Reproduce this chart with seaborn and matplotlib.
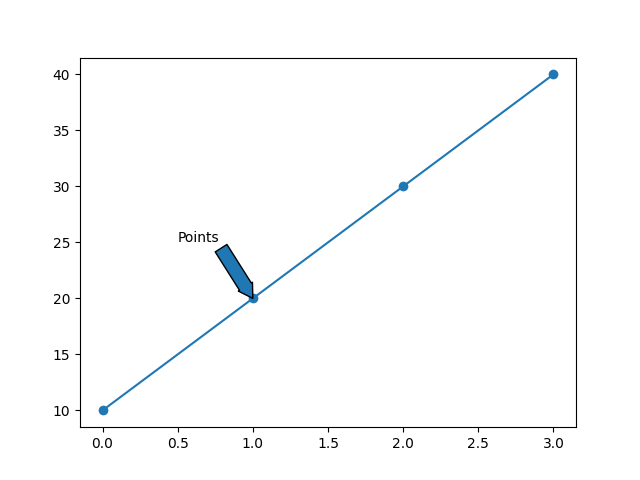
import matplotlib
matplotlib.use("Agg")
import matplotlib.pyplot as plt
import seaborn as sns
import pandas as pd

x_vals = [0, 1, 2, 3]
y_vals = [10, 20, 30, 40]
note_text = "Points"
note_xy = (1, 20)
note_xytext = (0.5, 25)

df = pd.DataFrame({"x": x_vals, "y": y_vals})

fig, ax = plt.subplots(figsize=(6.4, 4.8), dpi=100)
sns.lineplot(data=df, x="x", y="y", marker="o", markersize=7,
             markeredgewidth=0, ax=ax)
ax.annotate(note_text, xy=note_xy, xytext=note_xytext,
            arrowprops=dict(width=10, headwidth=12, headlength=10))
ax.set_xlabel("")
ax.set_ylabel("")

fig.savefig("out.png")
